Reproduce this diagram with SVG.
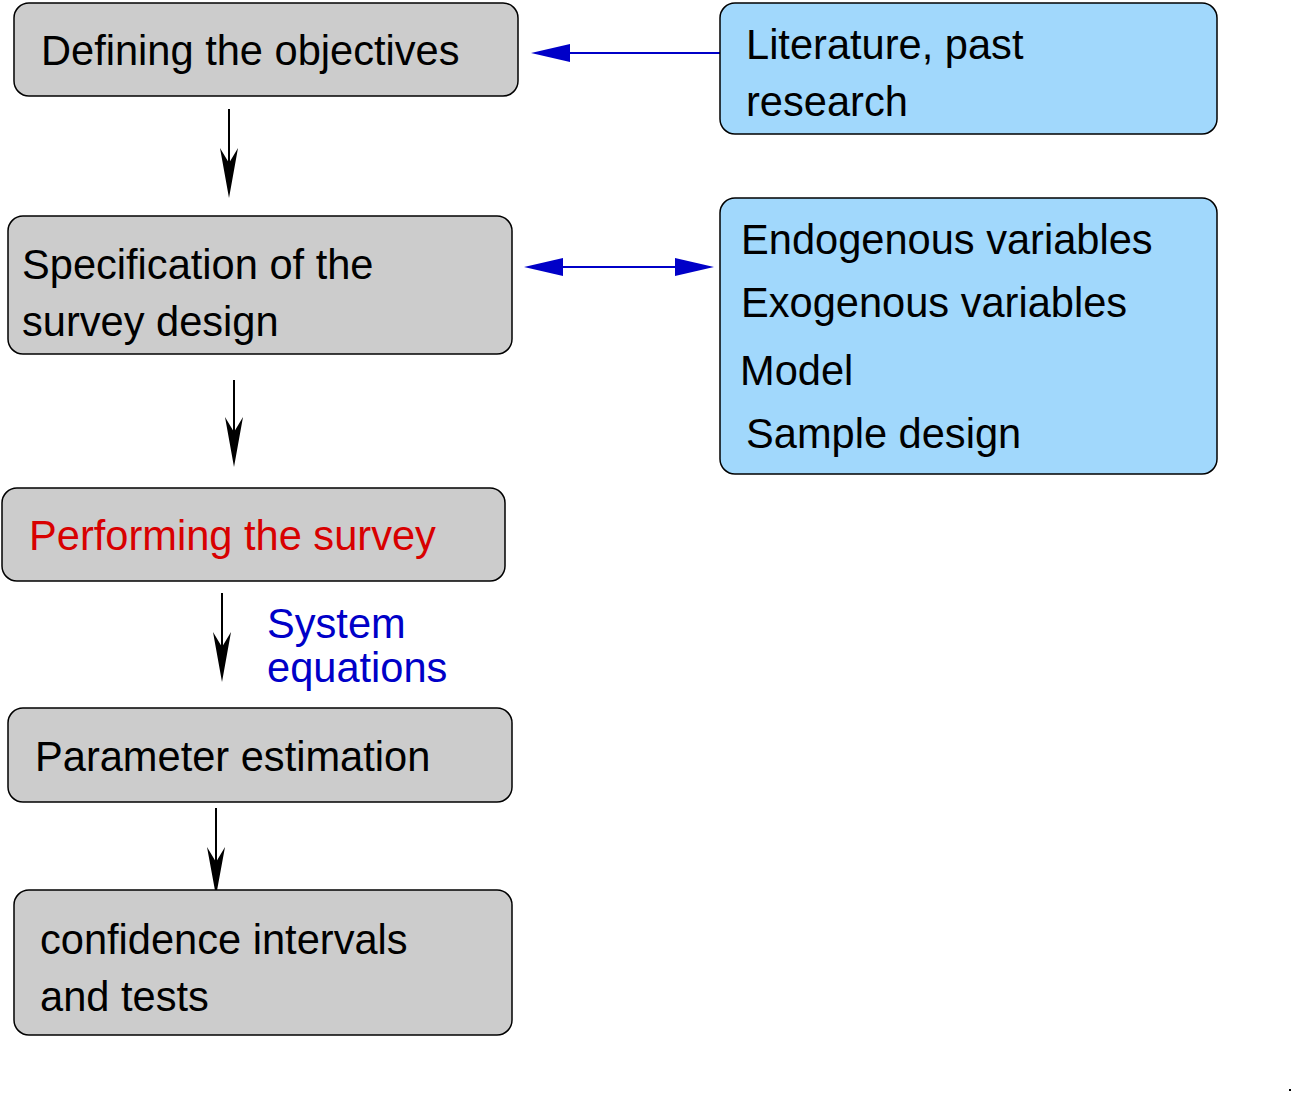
<svg xmlns="http://www.w3.org/2000/svg" width="1295" height="1094" viewBox="0 0 1295 1094">
<defs>
<style>
.g{fill:#cccccc;stroke:#000;stroke-width:1.5}
.b{fill:#a1d8fc;stroke:#000;stroke-width:1.5}
text{font-family:"Liberation Sans",Arial,sans-serif;font-size:41.6px;fill:#000}
.red{fill:#d80000}
.blu{fill:#0000c8}
.k{stroke:#000;stroke-width:2;fill:none}
.bl{stroke:#0000c8;stroke-width:2;fill:none}
.kh{fill:#000}
.bh{fill:#0000c8}
</style>
</defs>
<rect x="0" y="0" width="1295" height="1094" fill="#fff"/>
<g id="connectors">
<line class="k" x1="229" y1="109" x2="229" y2="180"/>
<polygon class="kh" points="229,198 220,148 229,163 238,148"/>
<line class="k" x1="234" y1="380" x2="234" y2="450"/>
<polygon class="kh" points="234,467 225,417 234,432 243,417"/>
<line class="k" x1="222" y1="593" x2="222" y2="665"/>
<polygon class="kh" points="222,682 213,632 222,647 231,632"/>
<line class="k" x1="216" y1="808" x2="216" y2="878"/>
<polygon class="kh" points="216,896 207,847 216,862 225,847"/>
<line class="bl" x1="720" y1="53" x2="560" y2="53"/>
<polygon class="bh" points="531,53 570,44 570,62"/>
<line class="bl" x1="555" y1="267" x2="685" y2="267"/>
<polygon class="bh" points="524,267 563,258 563,276"/>
<polygon class="bh" points="714,267 675,258 675,276"/>
<text class="blu" x="267" y="638">System</text>
<text class="blu" x="267" y="682">equations</text>
</g>
<g id="n1">
<rect class="g" x="14" y="3" width="504" height="93" rx="15"/>
<text x="41" y="65">Defining the objectives</text>
</g>
<g id="n2">
<rect class="g" x="8" y="216" width="504" height="138" rx="15"/>
<text x="22" y="279">Specification of the</text>
<text x="22" y="336">survey design</text>
</g>
<g id="n3">
<rect class="g" x="2" y="488" width="503" height="93" rx="15"/>
<text class="red" x="29" y="550">Performing the survey</text>
</g>
<g id="n4">
<rect class="g" x="8" y="708" width="504" height="94" rx="15"/>
<text x="35" y="771">Parameter estimation</text>
</g>
<g id="n5">
<rect class="g" x="14" y="890" width="498" height="145" rx="15"/>
<text x="40" y="954">confidence intervals</text>
<text x="40" y="1011">and tests</text>
</g>
<g id="r1">
<rect class="b" x="720" y="3" width="497" height="131" rx="15"/>
<text x="746" y="59">Literature, past</text>
<text x="746" y="116">research</text>
</g>
<g id="r2">
<rect class="b" x="720" y="198" width="497" height="276" rx="15"/>
<text x="741" y="254">Endogenous variables</text>
<text x="741" y="317">Exogenous variables</text>
<text x="740" y="385">Model</text>
<text x="746" y="448">Sample design</text>
</g>
<rect x="1289" y="1089" width="2" height="2" fill="#000"/>
</svg>
